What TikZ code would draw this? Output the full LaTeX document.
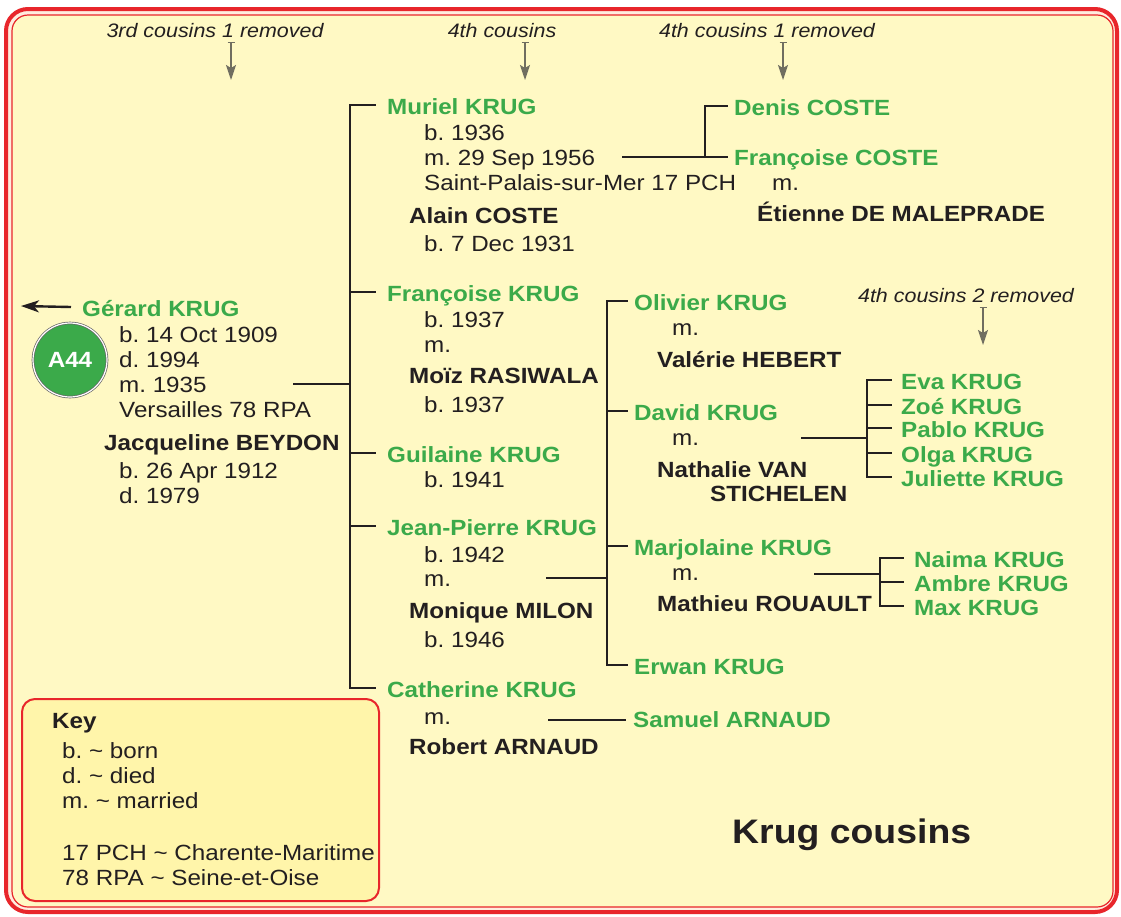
\documentclass[tikz,border=0pt]{standalone}
\usepackage{fontspec}
\setmainfont{Liberation Sans}[FakeStretch=1.1]
\usetikzlibrary{arrows.meta}
\definecolor{bg}{RGB}{255,249,196}
\definecolor{keybg}{RGB}{255,245,170}
\definecolor{frame}{RGB}{232,38,43}
\definecolor{pale}{RGB}{255,236,222}
\definecolor{grn}{RGB}{59,170,74}
\definecolor{ink}{RGB}{35,31,32}
\definecolor{arrowgray}{RGB}{112,110,96}
\frenchspacing
\begin{document}
\frenchspacing
\begin{tikzpicture}[x=1pt,y=-1pt,
  base/.style={anchor=base west, inner sep=0pt, text height=18pt, text depth=0pt, text=ink, font=\fontsize{22}{25}\selectfont\frenchspacing},
  info/.style={base},
  gname/.style={base, text=grn, font=\fontsize{22}{25}\selectfont\bfseries\frenchspacing},
  sname/.style={base, font=\fontsize{22}{25}\selectfont\bfseries\frenchspacing},
  lab/.style={anchor=base, inner sep=0pt, text=ink, font=\fontsize{19.5}{22}\selectfont\itshape},
  ln/.style={draw=ink, line width=2.5pt},
  cuz/.style={draw=arrowgray, line width=1.5pt, {Bar[width=7pt,line width=1.1pt]}-{Stealth[length=15pt,width=10pt,inset=3pt]}}
]
\useasboundingbox (0,0) rectangle (1121,916);
\fill[white] (0,0) rectangle (1121,916);
\draw[frame, line width=4pt, fill=pale, rounded corners=22pt] (6,9) rectangle (1117,912);
\draw[frame, line width=1.2pt, fill=bg, rounded corners=16pt] (12,15) rectangle (1113,907);

% generation labels
\node[lab] (l1) at (215,37) {3rd cousins 1 removed};
\node[lab] (l2) at (502,37) {4th cousins};
\node[lab] (l3) at (767,37) {4th cousins 1 removed};
\node[lab] (l4) at (966,302) {4th cousins 2 removed};
\coordinate (a1s) at (231,42); \coordinate (a1e) at (231,80);
\coordinate (a2s) at (525,42); \coordinate (a2e) at (525,80);
\coordinate (a3s) at (783,42); \coordinate (a3e) at (783,80);
\coordinate (a4s) at (983,307); \coordinate (a4e) at (983,345);
\draw[cuz] (a1s) -- (a1e);
\draw[cuz] (a2s) -- (a2e);
\draw[cuz] (a3s) -- (a3e);
\draw[cuz] (a4s) -- (a4e);

% Gerard
\node[circle, minimum size=74pt, inner sep=0pt, fill=grn, draw=black!60, double=white, double distance=1.2pt, line width=0.7pt,
  text=white, font=\fontsize{22}{25}\selectfont\bfseries] (a44) at (70,360) {A44};
\node[gname] (gerard) at (82,316) {Gérard KRUG};
\coordinate (gout) at (21,306);
\draw[draw=ink, line width=2.4pt, -{Stealth[length=18pt,width=12pt,inset=5pt]}] ([xshift=-11pt]gerard.west) -- (gout);
\node[info] (g1) at (119,342) {b. 14 Oct 1909};
\node[info] (g2) at (119,367) {d. 1994};
\node[info] (g3) at (119,392) {m. 1935};
\node[info] (g4) at (119,417) {Versailles 78 RPA};
\node[sname] (jacq) at (104,450) {Jacqueline BEYDON};
\node[info] (j1) at (119,478) {b. 26 Apr 1912};
\node[info] (j2) at (119,503) {d. 1979};

% Muriel
\node[gname] (muriel) at (387,114) {Muriel KRUG};
\node[info] (mu1) at (424,140) {b. 1936};
\node[info] (mu2) at (424,165) {m. 29 Sep 1956};
\node[info] (mu3) at (424,190) {Saint-Palais-sur-Mer 17 PCH};
\node[sname] (alain) at (409,223) {Alain COSTE};
\node[info] (al1) at (424,251) {b. 7 Dec 1931};
\node[gname] (denis) at (734,115) {Denis COSTE};
\node[gname] (fcoste) at (734,165) {Françoise COSTE};
\node[info] (fc1) at (772,190) {m.};
\node[sname] (etienne) at (757,221) {Étienne DE MALEPRADE};

% Francoise
\node[gname] (francoise) at (387,301) {Françoise KRUG};
\node[info] (fr1) at (424,327) {b. 1937};
\node[info] (fr2) at (424,352) {m.};
\node[sname] (moiz) at (409,383) {Moïz RASIWALA};
\node[info] (mo1) at (424,412) {b. 1937};

% Guilaine
\node[gname] (guilaine) at (387,462) {Guilaine KRUG};
\node[info] (gu1) at (424,487) {b. 1941};

% Jean-Pierre
\node[gname] (jeanpierre) at (387,535) {Jean-Pierre KRUG};
\node[info] (jp1) at (424,562) {b. 1942};
\node[info] (jp2) at (424,586) {m.};
\node[sname] (monique) at (409,618) {Monique MILON};
\node[info] (mn1) at (424,647) {b. 1946};

% Catherine
\node[gname] (catherine) at (387,697) {Catherine KRUG};
\node[info] (ca1) at (424,724) {m.};
\node[sname] (robert) at (409,754) {Robert ARNAUD};
\node[gname] (samuel) at (633,727) {Samuel ARNAUD};

% Jean-Pierre's children
\node[gname] (olivier) at (634,310) {Olivier KRUG};
\node[info] (ol1) at (672,335) {m.};
\node[sname] (valerie) at (657,367) {Valérie HEBERT};
\node[gname] (david) at (634,420) {David KRUG};
\node[info] (da1) at (672,445) {m.};
\node[sname] (nathalie) at (657,477) {Nathalie VAN};
\node[sname] (stichelen) at (710,501) {STICHELEN};
\node[gname] (marjolaine) at (634,555) {Marjolaine KRUG};
\node[info] (mj1) at (672,580) {m.};
\node[sname] (mathieu) at (657,611) {Mathieu ROUAULT};
\node[gname] (erwan) at (634,674) {Erwan KRUG};

% David's children
\node[gname] (eva) at (901,389) {Eva KRUG};
\node[gname] (zoe) at (901,414) {Zoé KRUG};
\node[gname] (pablo) at (901,437) {Pablo KRUG};
\node[gname] (olga) at (901,462) {Olga KRUG};
\node[gname] (juliette) at (901,486) {Juliette KRUG};

% Marjolaine's children
\node[gname] (naima) at (914,567) {Naima KRUG};
\node[gname] (ambre) at (914,591) {Ambre KRUG};
\node[gname] (max) at (914,615) {Max KRUG};

% connectors
\coordinate (gm) at (293,384); \coordinate (gbar) at (350,384);
\draw[ln] (gm) -- (gbar);
\foreach \n in {muriel,francoise,guilaine,jeanpierre,catherine}
  \draw[ln, shorten >=11pt] (gbar) |- (\n.west);

\coordinate (mm) at (622,157); \coordinate (cj) at (705,157);
\draw[ln, shorten >=6pt] (mm) -- (mm -| fcoste.west);
\draw[ln, shorten >=6pt] (cj) |- (denis.west);

\coordinate (jm) at (546,578); \coordinate (jbar) at (607,578);
\draw[ln] (jm) -- (jbar);
\foreach \n in {olivier,david,marjolaine,erwan}
  \draw[ln, shorten >=6pt] (jbar) |- (\n.west);

\coordinate (dm) at (801,438); \coordinate (dbar) at (867,438);
\draw[ln] (dm) -- (dbar);
\foreach \n in {eva,zoe,pablo,olga,juliette}
  \draw[ln, shorten >=9pt] (dbar) |- (\n.west);

\coordinate (mjm) at (814,574); \coordinate (mjbar) at (880,574);
\draw[ln] (mjm) -- (mjbar);
\foreach \n in {naima,ambre,max}
  \draw[ln, shorten >=10pt] (mjbar) |- (\n.west);

\coordinate (cm) at (548,720);
\draw[ln, shorten >=7pt] (cm) -- (cm -| samuel.west);

% key
\draw[frame, line width=2pt, fill=keybg, rounded corners=13pt] (22,699) rectangle (379,901);
\node[sname] (key) at (52,728) {Key};
\node[info] (k1) at (62,758) {b. \textasciitilde{} born};
\node[info] (k2) at (62,783) {d. \textasciitilde{} died};
\node[info] (k3) at (62,808) {m. \textasciitilde{} married};
\node[info] (k4) at (62,860) {17 PCH \textasciitilde{} Charente-Maritime};
\node[info] (k5) at (62,885) {78 RPA \textasciitilde{} Seine-et-Oise};

% title
\node[anchor=base west, inner sep=0pt, text=ink, font=\fontsize{34}{40}\selectfont\bfseries] (title) at (732,843) {Krug cousins};
\end{tikzpicture}
\end{document}
